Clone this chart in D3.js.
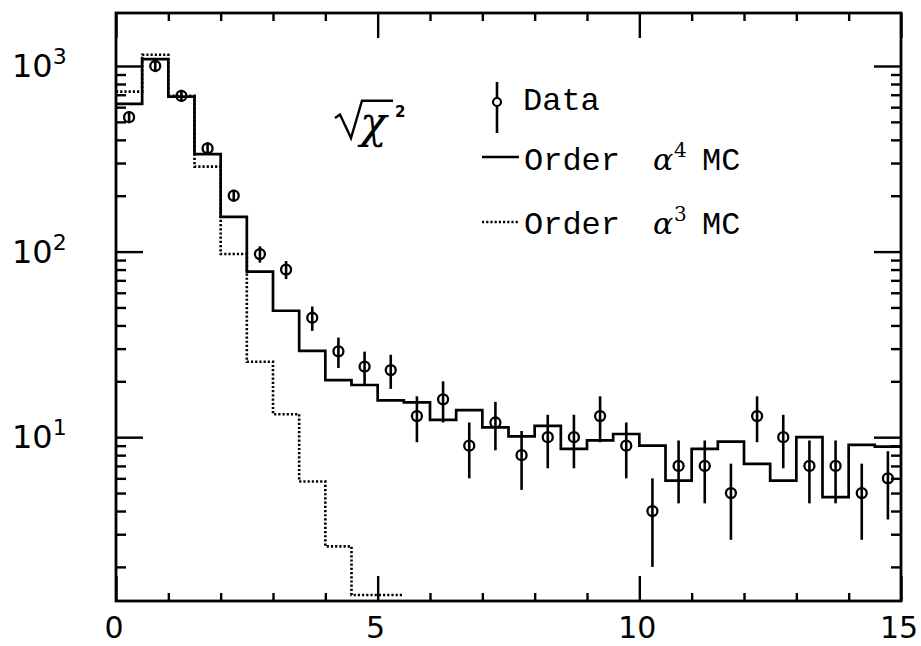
<!DOCTYPE html>
<html>
<head>
<meta charset="utf-8">
<script src="https://cdn.jsdelivr.net/npm/d3@7/dist/d3.min.js"></script>
<style>
  html, body { margin: 0; padding: 0; background: #fff; }
  svg { display: block; }
</style>
</head>
<body>
<svg id="chart" width="921" height="646"></svg>
<script>
// ---------------- data ----------------
const binEdges = [0, 0.5, 1, 1.5, 2, 2.5, 3, 3.5, 4, 4.5, 5, 5.5, 6, 6.5, 7, 7.5,
                  8, 8.5, 9, 9.5, 10, 10.5, 11, 11.5, 12, 12.5, 13, 13.5, 14, 14.5, 15];
const binCenters = [0.25, 0.75, 1.25, 1.75, 2.25, 2.75, 3.25, 3.75, 4.25, 4.75,
                    5.25, 5.75, 6.25, 6.75, 7.25, 7.75, 8.25, 8.75, 9.25, 9.75,
                    10.25, 10.75, 11.25, 11.75, 12.25, 12.75, 13.25, 13.75, 14.25, 14.75];
const dataCounts = [530, 1000, 690, 360, 200, 97, 80, 44, 29, 24,
                    23, 13, 16, 9, 12, 8, 10, 10, 13, 9,
                    4, 7, 7, 5, 13, 10, 7, 7, 5, 6];
const dataErrors = [23, 32, 26, 19, 14, 9.8, 8.9, 6.6, 5.4, 4.9,
                    4.8, 3.6, 4.0, 3.0, 3.5, 2.8, 3.2, 3.2, 3.6, 3.0,
                    2.0, 2.6, 2.6, 2.2, 3.6, 3.2, 2.6, 2.6, 2.2, 2.4];
const mcAlpha4 = [625, 1090, 684, 335, 154, 78, 48, 29.2, 20.3, 19.1,
                  15.8, 15.4, 12.4, 14.0, 11.3, 10.1, 11.5, 8.65, 9.6, 10.4,
                  9.0, 5.84, 8.65, 9.47, 7.18, 5.84, 10.0, 4.75, 9.1, 8.9];
const mcAlpha3 = [728, 1150, 690, 287, 97, 25.5, 13.3, 5.77, 2.58, 1.41, 1.41];

const xMajorTicks = [0, 5, 10, 15];
const xTickLabels = ["0", "5", "10", "15"];
const xMinorTicks = [1, 2, 3, 4, 6, 7, 8, 9, 11, 12, 13, 14];
const yMajorTicks = [10, 100, 1000];
const yTickExponents = ["1", "2", "3"];
const yMinorTicks = [2, 3, 4, 5, 6, 7, 8, 9, 20, 30, 40, 50, 60, 70, 80, 90, 200, 300, 400, 500, 600, 700, 800, 900];

const legendLabels = ["Data", "Order", "Order"];
const legendPowers = ["4", "3"];

// ---------------- layout ----------------
const L = 116, T = 13, R = 901, B = 601;
const svg = d3.select("#chart");
const x = d3.scaleLinear().domain([0, 15]).range([L, R]);
const y = d3.scaleLog().domain([1.31, 1930]).range([B, T]);

svg.append("defs").append("clipPath").attr("id", "clip")
  .append("rect").attr("x", L).attr("y", T).attr("width", R - L).attr("height", B - T);

// ---------------- axes (ticks inward on all four sides) ----------------
function styleAxis(g) {
  g.select(".domain").remove();
  g.selectAll(".tick line").attr("stroke", "#000").attr("stroke-width", 2.4);
  g.selectAll(".tick text").remove();
}
svg.append("g").attr("transform", `translate(0,${B})`)
  .call(d3.axisBottom(x).tickValues(xMajorTicks).tickSize(-25)).call(styleAxis);
svg.append("g").attr("transform", `translate(0,${B})`)
  .call(d3.axisBottom(x).tickValues(xMinorTicks).tickSize(-8)).call(styleAxis);
svg.append("g").attr("transform", `translate(0,${T})`)
  .call(d3.axisTop(x).tickValues(xMajorTicks).tickSize(-25)).call(styleAxis);
svg.append("g").attr("transform", `translate(0,${T})`)
  .call(d3.axisTop(x).tickValues(xMinorTicks).tickSize(-8)).call(styleAxis);
svg.append("g").attr("transform", `translate(${L},0)`)
  .call(d3.axisLeft(y).tickValues(yMajorTicks).tickSize(-27)).call(styleAxis);
svg.append("g").attr("transform", `translate(${L},0)`)
  .call(d3.axisLeft(y).tickValues(yMinorTicks).tickSize(-10)).call(styleAxis);
svg.append("g").attr("transform", `translate(${R},0)`)
  .call(d3.axisRight(y).tickValues(yMajorTicks).tickSize(-27)).call(styleAxis);
svg.append("g").attr("transform", `translate(${R},0)`)
  .call(d3.axisRight(y).tickValues(yMinorTicks).tickSize(-10)).call(styleAxis);

// tick labels
svg.append("g").selectAll("text").data(xMajorTicks).join("text")
  .attr("x", d => x(d) - 2).attr("y", 638)
  .attr("text-anchor", "middle")
  .attr("font-family", "DejaVu Sans, sans-serif").attr("font-size", 30)
  .text((d, i) => xTickLabels[i]);

const yl = svg.append("g").selectAll("text").data(yMajorTicks).join("text")
  .attr("x", 12).attr("y", d => y(d) + 11)
  .attr("font-family", "DejaVu Sans, sans-serif").attr("font-size", 32);
yl.append("tspan").text("10");
yl.append("tspan").attr("dy", -13).attr("font-size", 22).text((d, i) => yTickExponents[i]);

// ---------------- histograms ----------------
function stepPoints(vals) {
  const pts = vals.map((v, i) => [binEdges[i], v]);
  pts.push([binEdges[vals.length], vals[vals.length - 1]]);
  return pts;
}
const stepLine = d3.line().x(d => x(d[0])).y(d => y(d[1])).curve(d3.curveStepAfter);

const plot = svg.append("g").attr("clip-path", "url(#clip)");
plot.append("path").datum(stepPoints(mcAlpha3))
  .attr("d", stepLine).attr("fill", "none").attr("stroke", "#000")
  .attr("stroke-width", 2.6).attr("stroke-dasharray", "2.2,2");
plot.append("path").datum(stepPoints(mcAlpha4))
  .attr("d", stepLine).attr("fill", "none").attr("stroke", "#000")
  .attr("stroke-width", 2.7);

// ---------------- data points ----------------
const pts = plot.append("g").selectAll("g").data(dataCounts).join("g");
pts.append("line")
  .attr("x1", (d, i) => x(binCenters[i])).attr("x2", (d, i) => x(binCenters[i]))
  .attr("y1", (d, i) => Math.min(y(d + dataErrors[i]), y(d) - 6))
  .attr("y2", (d, i) => Math.max(y(Math.max(d - dataErrors[i], 0.01)), y(d) + 6))
  .attr("stroke", "#000").attr("stroke-width", 2.6);
pts.append("circle")
  .attr("cx", (d, i) => x(binCenters[i])).attr("cy", d => y(d))
  .attr("r", 5).attr("fill", "none").attr("stroke", "#000").attr("stroke-width", 2.3);

// ---------------- frame ----------------
svg.append("rect").attr("x", L).attr("y", T).attr("width", R - L).attr("height", B - T)
  .attr("fill", "none").attr("stroke", "#000").attr("stroke-width", 2.8);

// ---------------- sqrt(chi^2) label ----------------
svg.append("path")
  .attr("d", "M335,118 L340,114.5 L351,138 L362,100.7 L393,100.7")
  .attr("fill", "none").attr("stroke", "#000").attr("stroke-width", 2.4)
  .attr("stroke-linejoin", "miter");
svg.append("text").attr("x", 360).attr("y", 138)
  .attr("font-family", "DejaVu Serif, serif").attr("font-style", "italic")
  .attr("font-size", 44).text("χ");
svg.append("text").attr("x", 395).attr("y", 117)
  .attr("font-family", "DejaVu Sans, sans-serif").attr("font-weight", "bold")
  .attr("font-size", 15).text("2");

// ---------------- legend ----------------
const mono = "Liberation Mono, Courier New, monospace";
const leg = svg.append("g");
// Data entry
leg.append("line").attr("x1", 497).attr("x2", 497).attr("y1", 82).attr("y2", 133)
  .attr("stroke", "#000").attr("stroke-width", 2.6);
leg.append("circle").attr("cx", 497).attr("cy", 102).attr("r", 4)
  .attr("fill", "#fff").attr("stroke", "#000").attr("stroke-width", 2.2);
leg.append("text").attr("x", 523).attr("y", 109.5)
  .attr("font-family", mono).attr("font-size", 32).text(legendLabels[0]);

// MC entries
const legRows = [{lineY: 157, base: 169.5, dash: null}, {lineY: 222, base: 233.5, dash: "2.2,2"}];
legRows.forEach((r, i) => {
  leg.append("line").attr("x1", 482).attr("x2", 519).attr("y1", r.lineY).attr("y2", r.lineY)
    .attr("stroke", "#000").attr("stroke-width", 2.4).attr("stroke-dasharray", r.dash);
  leg.append("text").attr("x", 524).attr("y", r.base)
    .attr("font-family", mono).attr("font-size", 32).text(legendLabels[i + 1]);
  leg.append("text").attr("x", 653).attr("y", r.base)
    .attr("font-family", "DejaVu Serif, serif").attr("font-style", "italic")
    .attr("font-size", 30).text("α");
  leg.append("text").attr("x", 674).attr("y", r.base - 13)
    .attr("font-family", "DejaVu Serif, serif").attr("font-size", 20).text(legendPowers[i]);
  leg.append("text").attr("x", 702).attr("y", r.base)
    .attr("font-family", mono).attr("font-size", 32).text("MC");
});
</script>
</body>
</html>
